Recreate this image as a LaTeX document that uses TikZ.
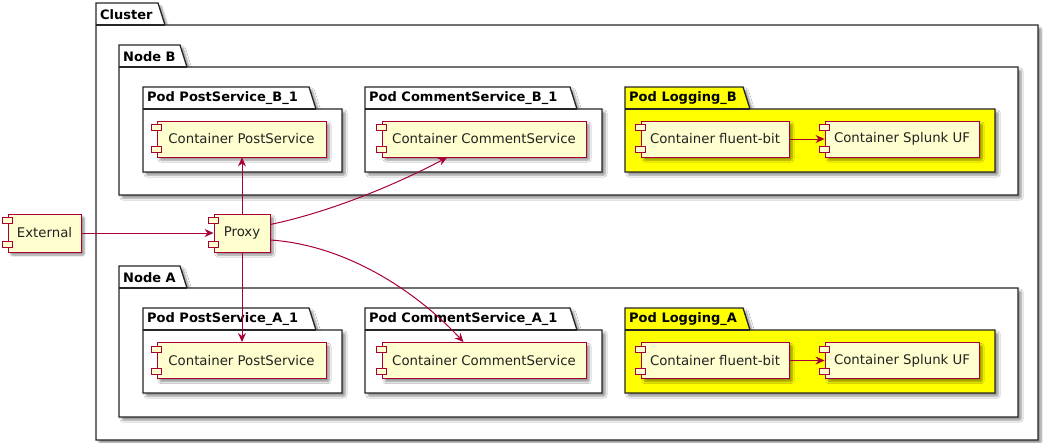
\documentclass[tikz,border=0pt]{standalone}
\usepackage{fontspec}
\setmainfont{DejaVu Sans}
\usetikzlibrary{arrows.meta,shadows.blur,calc}

\definecolor{pumlred}{HTML}{A80036}
\definecolor{pumlfill}{HTML}{FEFECE}
\definecolor{podyellow}{HTML}{FFFF00}
\definecolor{inktext}{HTML}{222222}

\tikzset{
  softshadow/.style={blur shadow={shadow xshift=3pt, shadow yshift=-3pt,
      shadow blur steps=6, shadow blur extra rounding=1pt, shadow opacity=45}},
  comp/.style={draw=pumlred, fill=pumlfill, line width=0.9pt, inner sep=0pt,
      minimum height=36pt, softshadow, text=inktext, font=\fontsize{13.3}{16}\selectfont},
  compicon/.style={draw=pumlred, fill=pumlfill, line width=0.9pt},
  pkgframe/.style={draw=black!85, line width=1.3pt, softshadow},
  pkglabel/.style={anchor=west, inner sep=0pt, font=\fontsize{13}{16}\selectfont\bfseries},
  flow/.style={draw=pumlred, line width=1pt, -{Stealth[length=9pt,width=8pt,inset=3pt]}},
}

% package with a folder tab: name, left, tab top, body top, tab right, right, bottom, label, fill
\newcommand{\pkgbox}[9]{%
  \path[pkgframe, fill=#9] (#2,#7) -- (#2,#3) -- (#5,#3) -- ($(#5,#4)+(7,0)$) -- (#6,#4) -- (#6,#7) -- cycle;
  \draw[black!85, line width=1.3pt] (#2,#4) -- ($(#5,#4)+(7,0)$);
  \node[pkglabel] (#1) at ($(#2,#3)!0.5!(#2,#4)+(4,0.5)$) {#8};
}

\begin{document}
\begin{tikzpicture}[x=1pt,y=-1pt]
\useasboundingbox (0,0) rectangle (1043,442);

% packages, outermost first
\pkgbox{cluster}{96}{3}{25}{158}{1038}{440}{Cluster}{white}
\pkgbox{nodeB}{119}{45}{67}{180}{1018}{195}{Node B}{white}
\pkgbox{nodeA}{119}{266}{288}{180}{1018}{417}{Node A}{white}
\pkgbox{podPsB}{143}{87}{109}{309}{342}{172}{Pod PostService\_B\_1}{white}
\pkgbox{podCsB}{365}{87}{109}{570}{602}{172}{Pod CommentService\_B\_1}{white}
\pkgbox{podLogB}{625}{87}{109}{743}{995}{172}{Pod Logging\_B}{podyellow}
\pkgbox{podPsA}{143}{308}{330}{309}{342}{393}{Pod PostService\_A\_1}{white}
\pkgbox{podCsA}{365}{308}{330}{570}{602}{393}{Pod CommentService\_A\_1}{white}
\pkgbox{podLogA}{625}{308}{330}{743}{995}{393}{Pod Logging\_A}{podyellow}

% components
\node[comp, minimum width=73pt, minimum height=38pt] (ext) at (44.5,233) {External};
\node[comp, minimum width=56pt, minimum height=38pt] (proxy) at (242,233) {Proxy};
\node[comp, minimum width=169pt] (psB) at (241.5,139) {Container PostService};
\node[comp, minimum width=204pt] (csB) at (484,139) {Container CommentService};
\node[comp, minimum width=148pt] (flB) at (715,139) {Container fluent-bit};
\node[comp, minimum width=154pt] (spB) at (902,139) {Container Splunk UF};
\node[comp, minimum width=169pt] (psA) at (241.5,360.5) {Container PostService};
\node[comp, minimum width=204pt] (csA) at (484,360.5) {Container CommentService};
\node[comp, minimum width=148pt] (flA) at (715,360.5) {Container fluent-bit};
\node[comp, minimum width=154pt] (spA) at (902,360.5) {Container Splunk UF};

% component icons on the left edge
\foreach \c in {ext,proxy,psB,csB,flB,spB,psA,csA,flA,spA}{
  \draw[compicon] ($(\c.north west)+(-5,4)$) rectangle ++(10,6);
  \draw[compicon] ($(\c.south west)+(-5,-11)$) rectangle ++(10,6);
}

% connectors
\draw[flow] (ext.east) -- (proxy.west);
\draw[flow] (proxy.north) -- (proxy.north |- psB.south);
\draw[flow] (proxy.south) -- (proxy.south |- psA.north);
\draw[flow] ($(proxy.north east)!0.28!(proxy.south east)$)
  .. controls (330,212) and (395,185) .. ($(csB.south west)!0.32!(csB.south east)$);
\draw[flow] ($(proxy.north east)!0.68!(proxy.south east)$)
  .. controls (345,245) and (415,290) .. ($(csA.north west)!0.4!(csA.north east)$);
\draw[flow] (flB.east) -- (spB.west);
\draw[flow] (flA.east) -- (spA.west);
\end{tikzpicture}
\end{document}
